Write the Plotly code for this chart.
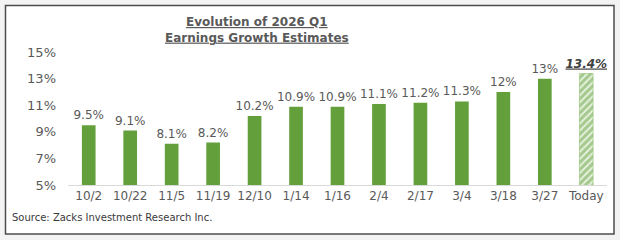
import plotly.graph_objects as go

categories = ["10/2", "10/22", "11/5", "11/19", "12/10", "1/14", "1/16", "2/4", "2/17", "3/4", "3/18", "3/27", "Today"]
values = [9.5, 9.1, 8.1, 8.2, 10.2, 10.9, 10.9, 11.1, 11.2, 11.3, 12.0, 13.0, 13.4]
labels = ["9.5%", "9.1%", "8.1%", "8.2%", "10.2%", "10.9%", "10.9%", "11.1%", "11.2%", "11.3%", "12%", "13%", "13.4%"]
title_lines = ["Evolution of 2026 Q1", "Earnings Growth Estimates"]
source_text = "Source: Zacks Investment Research Inc."
y_ticks = [5, 7, 9, 11, 13, 15]
y_tick_labels = ["5%", "7%", "9%", "11%", "13%", "15%"]

W, H = 620, 240
L, R, T, B = 68, 13, 52, 55
PW, PH = W - L - R, H - T - B

def px(x):
    return (x - L) / PW

def py(y):
    return (H - B - y) / PH

GREEN = "#63A03C"
GRAY = "#595959"
FONT = "DejaVu Sans"

fig = go.Figure()
fig.add_trace(go.Bar(
    x=categories[:-1], y=values[:-1], text=labels[:-1],
    textposition="outside", constraintext="none", cliponaxis=False,
    marker=dict(color=GREEN, line=dict(width=0)),
    textfont=dict(family=FONT, size=12, color=GRAY),
    showlegend=False,
))
fig.add_trace(go.Bar(
    x=categories[-1:], y=values[-1:],
    text=["<b><i><u>" + labels[-1] + "</u></i></b>"],
    textposition="outside", constraintext="none", cliponaxis=False,
    marker=dict(color="white", line=dict(width=0.6, color="#8fc06e"),
                pattern=dict(shape="/", fgcolor=GREEN, bgcolor="#e6f1de", size=5, solidity=0.6)),
    textfont=dict(family=FONT, size=12, color="#404040"),
    showlegend=False,
))

fig.update_layout(
    width=W, height=H,
    margin=dict(l=L, r=R, t=T, b=B, pad=0),
    paper_bgcolor="#f3f3f3", plot_bgcolor="rgba(0,0,0,0)",
    barmode="overlay", bargap=0.67,
    font=dict(family=FONT, color=GRAY),
    xaxis=dict(categoryorder="array", categoryarray=categories,
               showline=True, linecolor="#d9d9d9", linewidth=1,
               showgrid=False, ticks="", tickfont=dict(family=FONT, size=12, color=GRAY)),
    yaxis=dict(range=[5, 15.02], tickmode="array", tickvals=y_ticks, ticktext=y_tick_labels,
               showgrid=False, zeroline=False, showline=False, ticks="",
               ticklabelstandoff=11,
               tickfont=dict(family=FONT, size=13, color=GRAY)),
    shapes=[dict(type="rect", xref="paper", yref="paper", layer="below",
                 x0=px(5.5), x1=px(614), y0=py(234), y1=py(5.5),
                 fillcolor="white", line=dict(color="#4d4d4d", width=1.5))],
)

fig.add_annotation(text="<b><u>" + title_lines[0] + "</u></b><br><b><u>" + title_lines[1] + "</u></b>",
                   xref="paper", yref="paper",
                   x=px(257), y=py(30), xanchor="center", yanchor="middle", showarrow=False,
                   font=dict(family=FONT, size=12, color=GRAY))
fig.add_annotation(text=source_text, xref="paper", yref="paper",
                   x=px(10), y=py(217), xanchor="left", yanchor="middle", showarrow=False,
                   font=dict(family=FONT, size=10, color="#3a3a3a"))

fig.write_html("out.html")
